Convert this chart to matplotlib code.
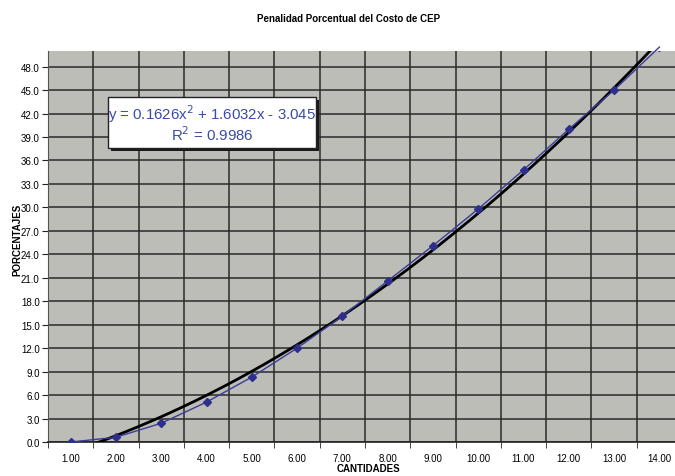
import numpy as np
import matplotlib
matplotlib.use("Agg")
import matplotlib.pyplot as plt
from matplotlib.patches import Rectangle

plt.rcParams['font.family'] = ['Liberation Sans', 'DejaVu Sans']

# data
cantidades = [1, 2, 3, 4, 5, 6, 7, 8, 9, 10, 11, 12, 13, 14]
porcentajes = [0.0, 0.6, 2.4, 5.1, 8.3, 12.0, 16.1, 20.6, 25.1, 29.8, 34.8, 40.0, 45.0, 50.5]
coefs = [0.1626, 1.6032, -3.045]   # polynomial trendline from the label
r2 = 0.9986
y_ticks = np.arange(0, 49, 3)

fig = plt.figure(figsize=(6.75, 4.77), dpi=100)
ax = fig.add_axes([48 / 675, 34 / 477, 634 / 675, 391 / 477])
ax.set_facecolor('#bdbdb8')

# trendline
xt = np.linspace(cantidades[0], cantidades[-1], 300)
yt = np.polyval(coefs, xt)
ax.plot(xt, yt, color='black', lw=2.0, zorder=3)

# data series: line may run past the top, markers stay inside
ax.plot(cantidades, porcentajes, color='#3b3b9a', lw=1.0, zorder=4, clip_on=False)
ax.plot(cantidades, porcentajes, ls='none', marker='D', ms=4,
        mfc='#2e2e8c', mec='#2e2e8c', zorder=4)

ax.set_xlim(0.5, 14.5)
ax.set_ylim(0, 50)

ax.set_xticks(cantidades)
ax.set_xticklabels(['%.2f' % c for c in cantidades], fontsize=7)
ax.set_xticks(np.arange(0.5, 15, 1), minor=True)
ax.set_yticks(y_ticks)
ax.set_yticklabels(['%.1f' % v for v in y_ticks], fontsize=7)
ax.tick_params(axis='x', which='major', length=0, pad=8)
ax.tick_params(axis='x', which='minor', length=4, direction='out', color='#222222')
ax.tick_params(axis='y', length=4, color='#222222', pad=2)

ax.grid(True, axis='y', which='major', color='#2a2a2a', lw=1.1)
ax.grid(True, axis='x', which='minor', color='#2a2a2a', lw=1.1)
ax.set_axisbelow(True)
for s in ['top', 'right']:
    ax.spines[s].set_visible(False)
ax.spines['left'].set_color('#555555')
ax.spines['bottom'].set_color('#222222')
ax.spines['bottom'].set_linewidth(1.2)

fig.text(349 / 675, 1 - 19 / 477, 'Penalidad Porcentual del Costo de CEP',
         ha='center', va='center', fontsize=7, fontweight='bold')
fig.text(368 / 675, 1 - 469 / 477, 'CANTIDADES', ha='center', va='center',
         fontsize=7, fontweight='bold')
fig.text(17 / 675, 1 - 240 / 477, 'PORCENTAJES', ha='center', va='center',
         rotation=90, fontsize=7, fontweight='bold')

# equation box with shadow
bx0, by0, bw, bh = 108 / 675, 1 - 149 / 477, 208 / 675, 51 / 477
fig.patches.append(Rectangle((bx0 + 3 / 675, by0 - 3 / 477), bw, bh,
                             transform=fig.transFigure, facecolor='#1a1a1a',
                             edgecolor='none', zorder=5))
fig.patches.append(Rectangle((bx0, by0), bw, bh, transform=fig.transFigure,
                             facecolor='white', edgecolor='#222222', lw=1.0, zorder=6))
eq = 'y = %.4fx$^2$ + %.4fx - %.3f' % (coefs[0], coefs[1], -coefs[2])
fig.text(bx0 + bw / 2, 1 - 114 / 477, eq, ha='center', va='center',
         fontsize=10.8, color='#3a4aa8', zorder=7)
fig.text(bx0 + bw / 2, 1 - 135 / 477, 'R$^2$ = %.4f' % r2, ha='center', va='center',
         fontsize=10.8, color='#3a4aa8', zorder=7)

fig.savefig('out.png', dpi=100)
